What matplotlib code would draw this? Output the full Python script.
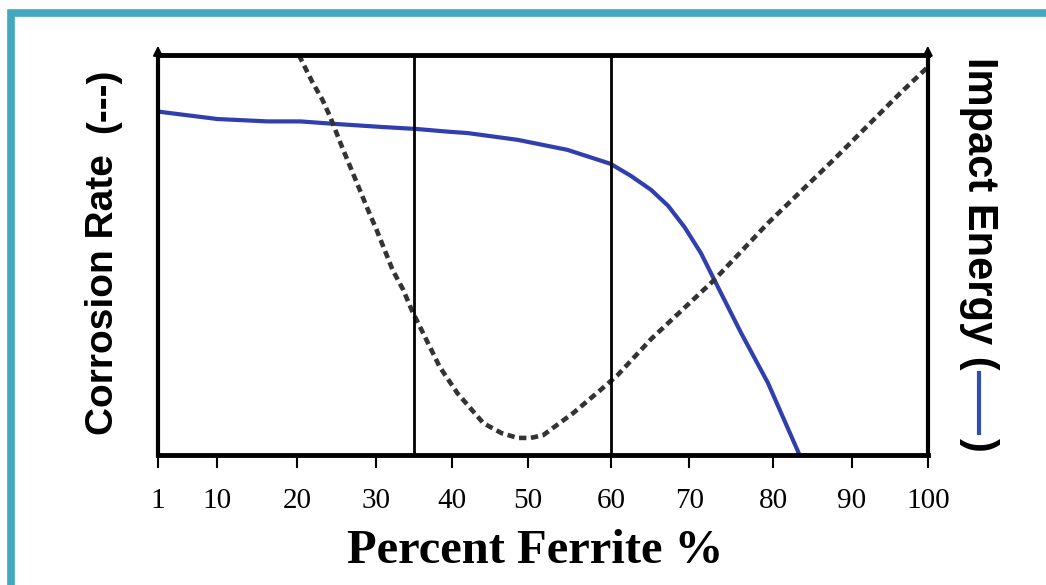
import matplotlib.pyplot as plt
import numpy as np
from matplotlib.patches import Rectangle
from matplotlib.lines import Line2D

# x axis ticks of the original drawing (spacing is not quite uniform)
x_ticks = [1, 10, 20, 30, 40, 50, 60, 70, 80, 90, 100]
x_tick_frac = [0.0, 0.077, 0.181, 0.283, 0.382, 0.481, 0.589, 0.690, 0.799, 0.901, 1.0]

# Impact energy (solid blue), relative units 0-100
impact_x = [1.3, 10, 16.3, 20.4, 24.6, 30.9, 35.4, 39.7, 42, 48.6, 54.7, 59.9,
            62.5, 65.1, 67.3, 69.4, 71.4, 73.0, 76.2, 79.4, 83.2]
impact_y = [85.8, 84.0, 83.4, 83.4, 82.8, 82, 81.5, 80.8, 80.5, 78.8, 76.3, 72.8,
            69.8, 66.3, 62.3, 57, 50.5, 43.8, 30.5, 18, 0.8]

# Corrosion rate (dashed), relative units 0-100
corr_x = [20.2, 21.9, 23.2, 24.2, 25.7, 27.6, 29.0, 30.1, 32.2, 33.6, 34.7, 36.2,
          38.4, 40.7, 44.1, 46.5, 48.6, 50.3, 51.8, 55.4, 58.7, 60.8, 65.1, 73.0,
          79.4, 87.7, 96.4, 100]
corr_y = [100, 93.3, 88.8, 84.5, 77, 68, 61.3, 56.3, 46.3, 41.3, 36.3, 30.5,
          22, 15.5, 8, 5.5, 4.3, 4.3, 5, 10.5, 16.3, 20, 29, 43.8,
          58, 73.8, 90.5, 97]

# phase boundaries
v_lines = [35, 60]


def fwd(x):
    return np.interp(x, x_ticks, x_tick_frac)


def inv(f):
    return np.interp(f, x_tick_frac, x_ticks)


fig = plt.figure(figsize=(10.46, 5.85), dpi=100)
ax = fig.add_axes([0.151, 0.222, 0.736, 0.684])
ax.set_xscale('function', functions=(fwd, inv))
ax.set_xlim(1, 100)
ax.set_ylim(0, 100)

ax.plot(impact_x, impact_y, color='#2f3fae', lw=3, solid_joinstyle='round')
ax.plot(corr_x, corr_y, color='#333333', lw=3.3, linestyle=(0, (1.6, 1.0)))
for xv in v_lines:
    ax.axvline(xv, color='black', lw=2)

for s in ax.spines.values():
    s.set_linewidth(3.5)
ax.spines['left'].set_linewidth(3)
ax.spines['right'].set_linewidth(3)

ax.set_xticks(x_ticks)
ax.set_xticklabels([str(t) for t in x_ticks], fontfamily='Liberation Serif', fontsize=21)
ax.tick_params(axis='x', direction='out', length=9, width=1.5, pad=15)
ax.set_yticks([])

# little arrow heads on the two vertical axes
for xa in (0, 1):
    ax.annotate('', xy=(xa, 1.03), xytext=(xa, 0.95), xycoords='axes fraction',
                arrowprops=dict(arrowstyle='-|>', color='black', lw=1.5,
                                mutation_scale=14), annotation_clip=False)

fig.text(0.512, 0.0376, 'Percent Ferrite %', ha='center', va='baseline',
         fontfamily='Liberation Serif', fontweight='bold', fontsize=35)

# y labels
fig.text(0.0985, 0.496, 'Corrosion Rate', rotation=90, ha='center', va='center',
         fontfamily='Liberation Sans', fontweight='bold', fontsize=28)
fig.text(0.0985, 0.827, '(---)', rotation=90, ha='center', va='center',
         fontfamily='Liberation Sans', fontweight='bold', fontsize=28)
fig.text(0.936, 0.636, 'Impact Energy (', rotation=270, ha='center', va='center',
         fontfamily='Liberation Sans', fontweight='bold', fontsize=30)
fig.add_artist(Line2D([0.936, 0.936], [0.362, 0.260], color='#3050b0', lw=3,
                      transform=fig.transFigure))
fig.text(0.936, 0.239, ')', rotation=270, ha='center', va='center',
         fontfamily='Liberation Sans', fontweight='bold', fontsize=30)

# teal border of the original picture
fig.add_artist(Rectangle((0.0105, -0.05), 1.2, 1.027, transform=fig.transFigure,
                         fill=False, edgecolor='#42a8c0', lw=5.5))

fig.savefig('out.png', dpi=100)
